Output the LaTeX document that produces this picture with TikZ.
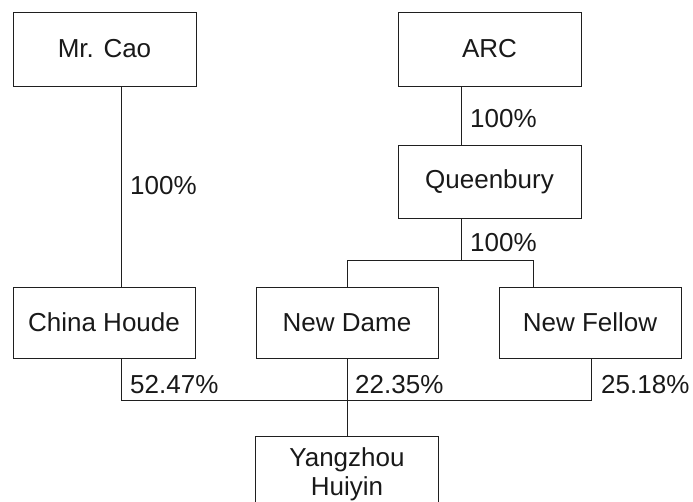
\documentclass[tikz,border=0pt]{standalone}
\usepackage{fontspec}
\setmainfont{Liberation Sans}
\begin{document}
\begin{tikzpicture}[x=1pt,y=-1pt,
  ink/.style={draw=black!88, line width=0.9pt},
  entity/.style={ink, rectangle, minimum width=183pt, inner sep=2pt,
    font=\fontsize{26}{29}\selectfont, text=black!90},
  share/.style={anchor=base west, inner sep=0pt,
    font=\fontsize{26}{29}\selectfont, text=black!90}]
\useasboundingbox (0,0) rectangle (693,501);
\clip (0,0) rectangle (693,501);
% entities
\node[entity, minimum height=74pt] (mrcao) at (104.5,49) {Mr. Cao};
\node[entity, minimum height=74pt] (arc) at (489.5,49) {ARC};
\node[entity, minimum height=73pt] (queen) at (489.5,181.5) {Queenbury};
\node[entity, minimum width=182pt, minimum height=71pt] (houde) at (104,322.5) {China Houde};
\node[entity, minimum width=182pt, minimum height=71pt] (dame) at (347,322.5) {New Dame};
\node[entity, minimum width=182pt, minimum height=71pt] (fellow) at (590,322.5) {New Fellow};
\node[entity, minimum height=77pt, align=center] (yz) at (347,474.5) {Yangzhou\\Huiyin};
% connector coordinates
\coordinate (xcao) at (121,0);
\coordinate (xarc) at (461,0);
\coordinate (tL) at (347,260);
\coordinate (tR) at (533,260);
\coordinate (tQ) at (461,260);
\coordinate (bL) at (121,400);
\coordinate (bR) at (591,400);
% connectors
\draw[ink] (mrcao.south -| xcao) -- (houde.north -| xcao);
\draw[ink] (arc.south -| xarc) -- (queen.north -| xarc);
\draw[ink] (queen.south -| xarc) -- (tQ);
\draw[ink] (dame.north) -- (tL) -- (tR) -- (fellow.north -| tR);
\draw[ink] (houde.south -| bL) -- (bL) -- (bR) -- (fellow.south -| bR);
\draw[ink] (dame.south) -- (yz.north);
% percentages
\node[share] (p1) at (130,194) {100\%};
\node[share] (p2) at (470,127) {100\%};
\node[share] (p3) at (470,251) {100\%};
\node[share] (p4) at (130,393) {52.47\%};
\node[share] (p5) at (355,393) {22.35\%};
\node[share] (p6) at (601,393) {25.18\%};
\end{tikzpicture}
\end{document}
